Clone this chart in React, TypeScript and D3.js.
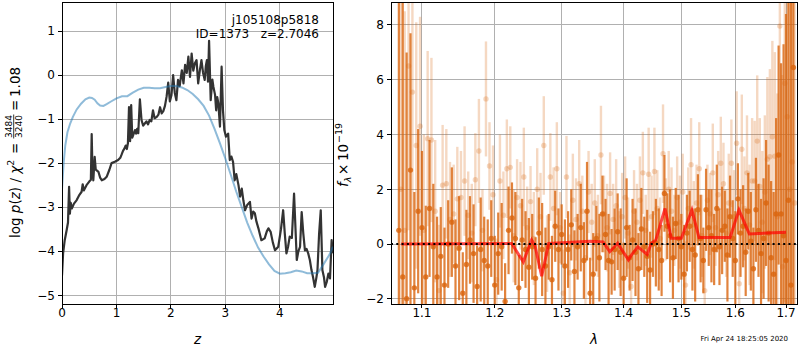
import React from "react";
import * as d3 from "d3";

// ---- left panel: log p(z) ----
const zTicks = [0, 1, 2, 3, 4];
const lnpTicks = [-5, -4, -3, -2, -1, 0, 1];

// smooth prior-like curve (blue)
const blueCurve = [
  [0, -2.6], [0.03, -2.0], [0.06, -1.6], [0.1, -1.3], [0.15, -1.1], [0.2, -0.95], [0.27, -0.78],
  [0.35, -0.65], [0.43, -0.55], [0.5, -0.51], [0.55, -0.52], [0.6, -0.56], [0.65, -0.64],
  [0.7, -0.69], [0.76, -0.7], [0.82, -0.66], [0.9, -0.6], [1.0, -0.53], [1.1, -0.48],
  [1.2, -0.48], [1.3, -0.4], [1.4, -0.33], [1.5, -0.29], [1.6, -0.29], [1.7, -0.3],
  [1.8, -0.3], [1.9, -0.27], [2.0, -0.25], [2.1, -0.25], [2.2, -0.28], [2.3, -0.34],
  [2.4, -0.43], [2.5, -0.55], [2.6, -0.7], [2.7, -0.92], [2.8, -1.22], [2.9, -1.55],
  [3.0, -1.9], [3.1, -2.27], [3.2, -2.65], [3.3, -3.0], [3.4, -3.35], [3.5, -3.65],
  [3.6, -3.92], [3.7, -4.12], [3.8, -4.3], [3.9, -4.45], [4.0, -4.51], [4.1, -4.5],
  [4.2, -4.48], [4.3, -4.44], [4.4, -4.46], [4.5, -4.5], [4.6, -4.5], [4.7, -4.49],
  [4.8, -4.3], [4.9, -4.1], [4.975, -3.9],
];

// noisy chi2 curve (dark)
const darkCurve = [
  [0, -4.55], [0.02, -4.05], [0.05, -3.75], [0.086, -3.52], [0.11, -3.35], [0.13, -2.54],
  [0.145, -3.15], [0.16, -2.9], [0.18, -3.03], [0.22, -2.92], [0.27, -2.84], [0.32, -2.72],
  [0.36, -2.65], [0.38, -2.48], [0.4, -2.62], [0.45, -2.5], [0.5, -2.42], [0.53, -2.38],
  [0.545, -1.34], [0.56, -2.2], [0.575, -2.39], [0.6, -1.86], [0.62, -2.15], [0.67, -2.2],
  [0.7, -2.33], [0.73, -2.39], [0.78, -2.36], [0.82, -2.31], [0.87, -2.15], [0.91, -2.0],
  [0.97, -1.97], [1.03, -1.93], [1.07, -1.88], [1.09, -1.82], [1.12, -1.72], [1.15, -1.66],
  [1.17, -1.6], [1.19, -1.68], [1.21, -1.55], [1.23, -0.73], [1.25, -1.5], [1.27, -0.68],
  [1.29, -1.42], [1.31, -1.35], [1.34, -1.25], [1.36, -1.33], [1.38, -1.22], [1.4, -1.32],
  [1.43, -0.55], [1.46, -1.02], [1.49, -1.15], [1.52, -1.1], [1.55, -1.05], [1.58, -1.12],
  [1.61, -1.02], [1.64, -1.05], [1.67, -0.8], [1.7, -0.98], [1.74, -0.95], [1.77, -0.9],
  [1.8, -0.73], [1.83, -0.87], [1.86, -0.82], [1.89, -0.7], [1.92, -0.49], [1.95, -0.17],
  [1.98, -0.6], [2.01, -0.45], [2.04, 0.0], [2.07, -0.4], [2.1, -0.57], [2.13, -0.11],
  [2.16, -0.25], [2.2, 0.11], [2.23, -0.19], [2.26, 0.23], [2.29, 0.05], [2.32, 0.42],
  [2.35, -0.04], [2.38, 0.49], [2.41, 0.1], [2.44, 0.27], [2.47, 0.34], [2.5, -0.19],
  [2.53, 0.1], [2.56, 0.34], [2.59, 0.05], [2.62, -0.11], [2.64, 0.2], [2.66, 0.34],
  [2.68, -0.15], [2.7, 0.78], [2.73, -0.57], [2.76, -0.1], [2.78, -0.27], [2.81, -0.45],
  [2.83, -0.8], [2.85, -0.5], [2.87, -0.64], [2.9, -1.17], [2.93, 0.19], [2.955, -0.8],
  [2.98, -1.25], [3.01, -1.4], [3.05, -1.33], [3.08, -1.93], [3.11, -1.85], [3.14, -1.97],
  [3.17, -2.39], [3.2, -2.25], [3.24, -2.5], [3.27, -2.76], [3.3, -2.58], [3.33, -2.85],
  [3.36, -3.07], [3.4, -2.95], [3.45, -2.88], [3.48, -3.26], [3.51, -3.1], [3.54, -3.14],
  [3.57, -3.33], [3.61, -3.5], [3.66, -3.75], [3.72, -3.71], [3.76, -3.55], [3.79, -3.48],
  [3.83, -3.56], [3.87, -3.8], [3.91, -3.98], [3.97, -3.9], [4.02, -3.5], [4.06, -3.07],
  [4.09, -3.6], [4.12, -4.05], [4.15, -3.9], [4.18, -3.67], [4.22, -3.7], [4.26, -2.69],
  [4.31, -4.2], [4.34, -4.0], [4.37, -3.9], [4.4, -3.11], [4.43, -3.6], [4.46, -3.98],
  [4.49, -3.95], [4.52, -4.05], [4.55, -4.2], [4.58, -4.43], [4.61, -4.6], [4.64, -4.81],
  [4.67, -4.6], [4.69, -4.43], [4.72, -3.6], [4.75, -3.07], [4.78, -4.43], [4.81, -4.6],
  [4.83, -4.81], [4.86, -4.7], [4.89, -4.51], [4.92, -4.62], [4.95, -3.75], [4.975, -4.05],
];

// ---- right panel: spectrum ----
const waveTicks = [1.1, 1.2, 1.3, 1.4, 1.5, 1.6, 1.7];
const fluxTicks = [-2, 0, 2, 4, 6, 8];

const waveA = [
  1.070, 1.075, 1.080, 1.085, 1.090, 1.095, 1.100, 1.105, 1.110, 1.115,
  1.120, 1.125, 1.130, 1.135, 1.140, 1.145, 1.150, 1.155, 1.160, 1.165,
  1.170, 1.175, 1.180, 1.185, 1.190, 1.195, 1.200, 1.205, 1.210, 1.215,
  1.220, 1.225, 1.230, 1.235, 1.240, 1.245, 1.250, 1.255, 1.260, 1.265,
  1.270, 1.275, 1.280, 1.285, 1.290, 1.295, 1.300, 1.305, 1.310, 1.315,
  1.320, 1.325, 1.330, 1.335, 1.340, 1.345, 1.350, 1.355, 1.360, 1.365,
  1.370, 1.375, 1.380, 1.385, 1.390, 1.395, 1.400, 1.405, 1.410, 1.415,
  1.420, 1.425, 1.430, 1.435, 1.440, 1.445, 1.450, 1.455, 1.460, 1.465,
  1.470, 1.475, 1.480, 1.485, 1.490, 1.495, 1.500, 1.505, 1.510, 1.515,
  1.520, 1.525, 1.530, 1.535, 1.540, 1.545, 1.550, 1.555, 1.560, 1.565,
  1.570, 1.575, 1.580, 1.585, 1.590, 1.595, 1.600, 1.605, 1.610, 1.615,
  1.620, 1.625, 1.630, 1.635, 1.640, 1.645, 1.650, 1.655, 1.660, 1.665,
  1.670, 1.675, 1.680, 1.685, 1.690, 1.695, 1.700, 1.705, 1.710, 1.715,
];
const fluxA = [
  0.5, -1.2, -2.0, 2.7, -1.6, 1.2, 0.6, -1.2, 1.3, -0.1,
  -1.2, -0.45, -1.5, 0.0, 0.8, -0.8, -0.15, -1.8, -0.75, 0.15,
  -0.35, -1.55, -0.2, -0.6, -0.8, 0.2, -1.5, -0.35, -0.1, -2.1,
  0.5, 0.95, 0.2, -1.6, 0.15, -0.2, -0.85, -0.1, -1.25, 0.4,
  -0.2, -0.8, -0.1, -1.3, 0.65, -0.2, 0.35, -0.8, -0.2, 0.7,
  -1.0, -0.1, 0.6, -0.6, 1.2, -1.8, -1.1, 0.2, -0.5, 1.1,
  0.35, -0.6, -0.65, -0.2, 0.45, -0.3, -1.25, 0.6, -0.5, 0.15,
  -0.3, -0.9, 0.55, -0.1, -0.45, -0.95, 0.0, 0.05, -0.2, -0.6,
  1.85, 0.65, 0.3, -0.5, 0.75, 0.2, -0.1, -1.1, 0.4, 0.65,
  -0.2, -0.4, 1.25, 0.2, -0.6, 1.25, 0.6, 0.3, -0.2, 1.3,
  -0.1, 0.5, 0.65, -0.4, 1.0, 0.2, -0.6, 1.65, 0.4, 0.65,
  -0.3, 1.2, 0.1, -0.9, 1.25, 0.5, -0.35, 0.2, 1.5, 0.4,
  -0.5, -1.1, 1.1, 3.25, 1.1, 0.3, -0.6, 1.6, -1.5, 6.45,
];
const errA = [
  14, 12, 9, 5, 3.5, 3.0, 2.8, 2.6, 2.5, 2.3,
  2.2, 1.8, 2.1, 1.6, 2.0, 1.7, 1.9, 1.5, 2.0, 1.6,
  1.8, 1.5, 1.9, 1.6, 1.7, 1.4, 1.8, 1.5, 1.6, 1.4,
  1.6, 1.3, 1.7, 1.2, 1.5, 1.4, 1.8, 1.2, 1.5, 1.3,
  1.7, 1.4, 1.2, 1.6, 1.3, 1.5, 1.1, 1.7, 1.4, 1.3,
  1.5, 1.2, 1.6, 1.4, 1.8, 1.3, 1.5, 1.2, 1.6, 1.4,
  1.3, 1.7, 1.2, 1.5, 1.4, 1.6, 1.3, 1.8, 1.2, 1.5,
  1.6, 1.3, 1.5, 1.1, 1.7, 1.4, 1.2, 1.6, 1.5, 1.3,
  1.4, 1.2, 1.7, 1.5, 1.3, 1.6, 1.2, 1.8, 1.4, 1.3,
  1.5, 1.7, 1.3, 1.6, 1.2, 1.5, 1.4, 1.7, 1.3, 1.6,
  1.4, 1.6, 1.3, 1.7, 1.5, 1.4, 1.8, 1.3, 1.6, 1.5,
  1.6, 1.4, 1.8, 1.5, 1.9, 1.7, 2.0, 2.2, 2.3, 2.5,
  2.8, 3.0, 3.5, 4.0, 5.5, 7.0, 9.0, 11, 13, 16,
];

const waveB = [
  1.0725, 1.0775, 1.0825, 1.0875, 1.0925, 1.0975, 1.1025, 1.1075, 1.1125, 1.1175,
  1.1225, 1.1275, 1.1325, 1.1375, 1.1425, 1.1475, 1.1525, 1.1575, 1.1625, 1.1675,
  1.1725, 1.1775, 1.1825, 1.1875, 1.1925, 1.1975, 1.2025, 1.2075, 1.2125, 1.2175,
  1.2225, 1.2275, 1.2325, 1.2375, 1.2425, 1.2475, 1.2525, 1.2575, 1.2625, 1.2675,
  1.2725, 1.2775, 1.2825, 1.2875, 1.2925, 1.2975, 1.3025, 1.3075, 1.3125, 1.3175,
  1.3225, 1.3275, 1.3325, 1.3375, 1.3425, 1.3475, 1.3525, 1.3575, 1.3625, 1.3675,
  1.3725, 1.3775, 1.3825, 1.3875, 1.3925, 1.3975, 1.4025, 1.4075, 1.4125, 1.4175,
  1.4225, 1.4275, 1.4325, 1.4375, 1.4425, 1.4475, 1.4525, 1.4575, 1.4625, 1.4675,
  1.4725, 1.4775, 1.4825, 1.4875, 1.4925, 1.4975, 1.5025, 1.5075, 1.5125, 1.5175,
  1.5225, 1.5275, 1.5325, 1.5375, 1.5425, 1.5475, 1.5525, 1.5575, 1.5625, 1.5675,
  1.5725, 1.5775, 1.5825, 1.5875, 1.5925, 1.5975, 1.6025, 1.6075, 1.6125, 1.6175,
  1.6225, 1.6275, 1.6325, 1.6375, 1.6425, 1.6475, 1.6525, 1.6575, 1.6625, 1.6675,
  1.6725, 1.6775, 1.6825, 1.6875, 1.6925, 1.6975, 1.7025, 1.7075, 1.7125, 1.7175,
];
const fluxB = [
  2.0, 0.5, 6.5, 5.55, 3.6, 4.3, 0.5, 3.85, 3.8, 1.2,
  -1.7, 2.15, 2.2, 0.9, 1.1, 1.65, 1.7, 2.3, 1.05, 0.4,
  2.35, 3.4, 0.5, 5.3, 2.85, 1.8, -1.3, 2.3, 1.05, 2.75,
  2.8, 0.3, 1.7, 1.4, 2.45, 0.6, 1.55, 0.2, 2.0, 1.0,
  3.6, -0.35, 2.45, 1.3, 2.75, 0.6, -1.8, 2.45, -1.05, 1.6,
  0.9, 2.2, 1.2, -0.5, 1.9, 0.8, 1.5, 0.3, 3.25, 1.1,
  0.6, 1.85, 0.9, 1.4, -0.2, 1.0, 1.7, 0.4, -1.55, 1.2,
  0.8, 1.6, 2.6, 0.5, 2.55, 1.0, 2.65, 1.3, 0.2, 3.3,
  0.9, 2.0, 1.2, 0.5, 1.7, 0.8, 1.9, -1.5, 1.3, 2.9,
  0.7, 1.5, 2.75, 0.3, -1.7, 1.6, 1.1, 2.6, 0.6, 1.8,
  2.95, 2.2, 0.4, 1.5, 2.95, 1.0, 3.68, -1.45, 3.46, 1.3,
  2.6, 0.7, 2.3, 2.3, 3.76, 2.1, 0.8, 1.9, 3.1, 3.19,
  3.92, 3.21, 1.0, 7.96, -0.83, 5.87, 4.65, 2.0, 3.0, 1.5,
];
const errB = [
  9, 8, 6, 5.5, 4.5, 4, 3.5, 3.2, 3.0, 2.6,
  2.4, 2.2, 2.0, 2.1, 1.8, 1.9, 1.7, 2.0, 1.6, 1.8,
  1.7, 1.9, 1.5, 2.1, 1.6, 1.8, 1.5, 1.7, 1.6, 1.8,
  1.5, 1.7, 1.4, 1.6, 1.8, 1.5, 1.3, 1.7, 1.5, 1.6,
  1.8, 1.4, 1.6, 1.5, 1.7, 1.3, 1.6, 1.5, 1.4, 1.7,
  1.5, 1.6, 1.3, 1.7, 1.5, 1.4, 1.6, 1.5, 1.8, 1.4,
  1.6, 1.5, 1.3, 1.7, 1.4, 1.6, 1.5, 1.3, 1.6, 1.5,
  1.4, 1.6, 1.5, 1.3, 1.7, 1.5, 1.6, 1.4, 1.5, 1.8,
  1.5, 1.4, 1.6, 1.3, 1.5, 1.7, 1.4, 1.6, 1.5, 1.7,
  1.6, 1.4, 1.7, 1.5, 1.6, 1.3, 1.5, 1.8, 1.4, 1.6,
  1.7, 1.5, 1.6, 1.8, 1.6, 1.7, 1.9, 1.8, 2.0, 1.9,
  2.1, 2.2, 2.3, 2.2, 2.4, 2.5, 2.6, 2.8, 3.0, 3.2,
  3.5, 3.8, 4.5, 6, 7, 8, 10, 12, 14, 16,
];

// best-fit template
const modelWave = [
  1.073, 1.2245, 1.2417, 1.254, 1.259, 1.2693, 1.28, 1.345, 1.366, 1.377, 1.39,
  1.408, 1.413, 1.424, 1.44, 1.447, 1.455, 1.471, 1.482, 1.50, 1.519, 1.532,
  1.59, 1.607, 1.627, 1.70,
];
const modelFlux = [
  0.0, 0.02, -0.65, 0.15, -0.04, -1.17, 0.02, 0.1, 0.08, -0.28, 0.03,
  -0.58, -0.4, -0.1, -0.38, 0.03, 0.15, 1.3, 0.21, 0.21, 1.24, 0.24,
  0.24, 1.24, 0.37, 0.43,
];

const FONT = "'DejaVu Sans', sans-serif";
const GRID = "#b0b0b0";
const ORANGE = "#d9640c";
const minus = (v: number) => (v < 0 ? "\u2212" + Math.abs(v) : String(v));

function Grid({ x, y, xt, yt }: any) {
  const [x0, x1] = x.range();
  const [y0, y1] = y.range();
  return (
    <g stroke={GRID} strokeWidth={1} shapeRendering="crispEdges">
      {xt.map((t: number) => (
        <line key={"gx" + t} x1={x(t)} x2={x(t)} y1={y0} y2={y1} />
      ))}
      {yt.map((t: number) => (
        <line key={"gy" + t} x1={x0} x2={x1} y1={y(t)} y2={y(t)} />
      ))}
    </g>
  );
}

function Frame({ x, y, xt, yt, fx, fy }: any) {
  const [x0, x1] = x.range();
  const [y0, y1] = y.range();
  return (
    <g fontFamily={FONT} fontSize={12}>
      <rect x={x0} y={y1} width={x1 - x0} height={y0 - y1} fill="none" stroke="#000"
        strokeWidth={1} shapeRendering="crispEdges" />
      {xt.map((t: number) => (
        <g key={"tx" + t}>
          <line x1={x(t)} x2={x(t)} y1={y0} y2={y0 + 4} stroke="#000" shapeRendering="crispEdges" />
          <text x={x(t)} y={y0 + 13} textAnchor="middle">{fx(t)}</text>
        </g>
      ))}
      {yt.map((t: number) => (
        <g key={"ty" + t}>
          <line x1={x0 - 4} x2={x0} y1={y(t)} y2={y(t)} stroke="#000" shapeRendering="crispEdges" />
          <text x={x0 - 7} y={y(t)} dy="0.36em" textAnchor="end">{fy(t)}</text>
        </g>
      ))}
    </g>
  );
}

export default function App() {
  const xL = d3.scaleLinear().domain([0, 4.975]).range([62, 333]);
  const yL = d3.scaleLinear().domain([-5.2, 1.66]).range([304, 2]);
  const xR = d3.scaleLog().domain([1.06, 1.7225]).range([391, 797]);
  const yR = d3.scaleLinear().domain([-2.19, 8.84]).range([304, 2]);

  const lineL = d3.line<number[]>().x((d) => xL(d[0])).y((d) => yL(d[1]));
  const model = d3
    .line<number>()
    .x((d) => xR(d))
    .y((_, i) => yR(modelFlux[i]));

  const errSeries = (wave: number[], flux: number[], err: number[], alpha: number, bw: number, key: string) => (
    <g key={key}>
      {wave.map((w, i) => (
        <line key={"b" + i} x1={xR(w)} x2={xR(w)} y1={yR(flux[i] - err[i])} y2={yR(flux[i] + err[i])}
          stroke={ORANGE} strokeOpacity={alpha} strokeWidth={bw} />
      ))}
      {wave.map((w, i) => (
        <circle key={"c" + i} cx={xR(w)} cy={yR(flux[i])} r={2.7} fill={ORANGE} fillOpacity={alpha} />
      ))}
    </g>
  );

  return (
    <svg width={800} height={350} style={{ position: "absolute", left: 0, top: 0, background: "#fff" }}
      fontFamily={FONT}>
      <defs>
        <clipPath id="clipL"><rect x={62} y={2} width={271} height={302} /></clipPath>
        <clipPath id="clipR"><rect x={391} y={2} width={406} height={302} /></clipPath>
      </defs>

      {/* left: redshift PDF */}
      <Grid x={xL} y={yL} xt={zTicks} yt={lnpTicks} />
      <g clipPath="url(#clipL)" fill="none">
        <path d={lineL(darkCurve) || ""} stroke="#333" strokeWidth={2.2} strokeLinejoin="round" />
        <path d={lineL(blueCurve) || ""} stroke="#1f77b4" strokeOpacity={0.5} strokeWidth={2} />
      </g>
      <Frame x={xL} y={yL} xt={zTicks} yt={lnpTicks} fx={(t: number) => String(t)} fy={minus} />
      <text x={319} y={24} textAnchor="end" fontSize={12}>j105108p5818</text>
      <text x={319} y={38} textAnchor="end" fontSize={12} style={{ whiteSpace: "pre" }}>
        {"ID=1373   z=2.7046"}
      </text>
      <text x={197.5} y={343.5} textAnchor="middle" fontSize={13.5} fontStyle="italic">z</text>
      <g transform="translate(20,238) rotate(-90)" fontSize={13.5}>
        <text x={0} y={0}>
          log <tspan fontStyle="italic">p</tspan>(<tspan fontStyle="italic">z</tspan>) / <tspan fontStyle="italic">χ</tspan>
          <tspan fontSize={9.5} dy={-6}>2</tspan>
        </text>
        <text x={84} y={0}>=</text>
        <text x={111.5} y={-8.5} fontSize={9} textAnchor="middle">3484</text>
        <line x1={99.5} x2={123.5} y1={-6.3} y2={-6.3} stroke="#000" strokeWidth={0.8} />
        <text x={111.5} y={1.5} fontSize={9} textAnchor="middle">3240</text>
        <text x={127} y={0}>=</text>
        <text x={141} y={0}>1.08</text>
      </g>

      {/* right: spectrum */}
      <Grid x={xR} y={yR} xt={waveTicks} yt={fluxTicks} />
      <g clipPath="url(#clipR)">
        {errSeries(waveB, fluxB, errB, 0.25, 2.4, "light")}
        {errSeries(waveA, fluxA, errA, 0.8, 2.2, "dark")}
        <path d={model(modelWave) || ""} fill="none" stroke="#ff0000" strokeOpacity={0.7} strokeWidth={3} />
        <line x1={391} x2={797} y1={yR(0)} y2={yR(0)} stroke="#000" strokeWidth={2} strokeDasharray="2 3.3" />
      </g>
      <Frame x={xR} y={yR} xt={waveTicks} yt={fluxTicks} fx={(t: number) => t.toFixed(1)} fy={minus} />
      <text x={594} y={343.5} textAnchor="middle" fontSize={13.5} fontStyle="italic">λ</text>
      <g transform="translate(348,187) rotate(-90)" fontSize={13.5}>
        <text x={0} y={0}>
          <tspan fontStyle="italic">f</tspan>
          <tspan fontStyle="italic" fontSize={9.5} dy={3}>λ</tspan>
        </text>
        <text x={12} y={0}>×</text>
        <text x={26} y={0}>10</text>
        <text x={44} y={-6} fontSize={9.5}>−19</text>
      </g>
      <text x={788} y={341} textAnchor="end" fontSize={7}>Fri Apr 24 18:25:05 2020</text>
    </svg>
  );
}
